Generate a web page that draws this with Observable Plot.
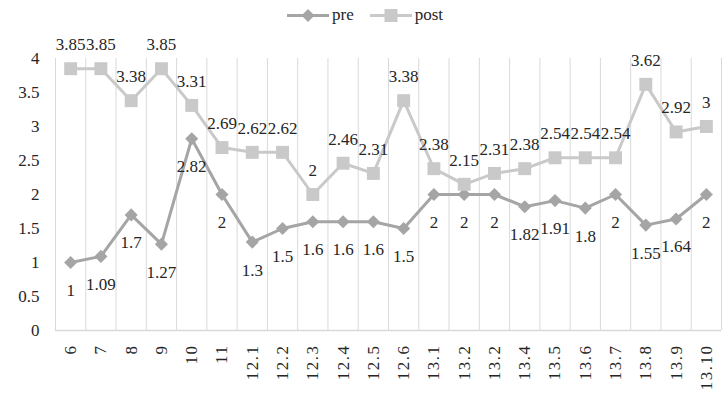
<!DOCTYPE html>
<html>
<head>
<meta charset="utf-8">
<script src="https://cdn.jsdelivr.net/npm/d3@7"></script>
<script src="https://cdn.jsdelivr.net/npm/@observablehq/plot@0.6"></script>
<style>
  body { margin: 0; background: #fff; font-family: "Liberation Serif", "Tinos", "Times New Roman", Times, "DejaVu Serif", serif; }
  #legend { height: 30px; display: flex; justify-content: center; align-items: center; font-size: 17px; color: #262626; padding-left: 8px; box-sizing: border-box; }
  #legend .item { display: flex; align-items: center; margin: 0 8px; }
  #legend svg { margin-right: 3px; }
  #chart svg, #chart svg text { font-family: "Liberation Serif", "Tinos", "Times New Roman", Times, "DejaVu Serif", serif !important; }
  #chart g[aria-label="x-axis tick label"] text { letter-spacing: 1.5px; }
</style>
</head>
<body>
<div id="legend"></div>
<div id="chart"></div>
<script>
const categories = ["6","7","8","9","10","11","12.1","12.2","12.3","12.4","12.5","12.6","13.1","13.2","13.2","13.4","13.5","13.6","13.7","13.8","13.9","13.10"];
const pre  = [1, 1.09, 1.7, 1.27, 2.82, 2, 1.3, 1.5, 1.6, 1.6, 1.6, 1.5, 2, 2, 2, 1.82, 1.91, 1.8, 2, 1.55, 1.64, 2];
const post = [3.85, 3.85, 3.38, 3.85, 3.31, 2.69, 2.62, 2.62, 2, 2.46, 2.31, 3.38, 2.38, 2.15, 2.31, 2.38, 2.54, 2.54, 2.54, 3.62, 2.92, 3];
const yTicks = [0, 0.5, 1, 1.5, 2, 2.5, 3, 3.5, 4];
const seriesNames = ["pre", "post"];
const colors = {pre: "#a5a5a5", post: "#c9c9c9"};

const data = categories.map((c, i) => ({i, x: i + 0.5, cat: c, pre: pre[i], post: post[i]}));
const boundaries = d3.range(categories.length + 1);

// legend
const legend = document.getElementById("legend");
seriesNames.forEach(name => {
  const item = document.createElement("div");
  item.className = "item";
  const sym = name === "pre"
    ? `<polygon points="21,1 27.5,7.5 21,14 14.5,7.5" fill="${colors.pre}"/>`
    : `<rect x="14.5" y="1" width="13" height="13" fill="${colors.post}"/>`;
  item.innerHTML = `<svg width="42" height="15"><line x1="0" x2="42" y1="7.5" y2="7.5" stroke="${colors[name]}" stroke-width="3"/>${sym}</svg><span>${name}</span>`;
  legend.appendChild(item);
});

const chart = Plot.plot({
  width: 722,
  height: 372,
  marginLeft: 55,
  marginRight: 1,
  marginTop: 28,
  marginBottom: 72,
  x: {domain: [0, categories.length], axis: null},
  y: {domain: [0, 4], axis: null},
  style: {fontSize: "17px", color: "#262626", background: "#fff"},
  marks: [
    Plot.ruleX(boundaries, {x: d => d, y1: 0, y2: 4, stroke: "#d9d9d9", strokeWidth: 1}),
    Plot.ruleY([0], {stroke: "#d9d9d9", strokeWidth: 1.5}),
    Plot.axisY({ticks: yTicks, tickSize: 0, tickPadding: 16, tickFormat: d => String(d), label: null, fontSize: 17}),
    Plot.axisX({ticks: data.map(d => d.x), tickFormat: d => categories[Math.floor(d)], tickRotate: -90, tickSize: 0, tickPadding: 14, label: null, fontSize: 17}),
    Plot.line(data, {x: "x", y: "pre", stroke: colors.pre, strokeWidth: 3, strokeLinejoin: "round"}),
    Plot.dot(data, {x: "x", y: "pre", symbol: "diamond2", r: 5.9, fill: colors.pre, stroke: "none"}),
    Plot.line(data, {x: "x", y: "post", stroke: colors.post, strokeWidth: 3, strokeLinejoin: "round"}),
    Plot.dot(data, {x: "x", y: "post", symbol: "square", r: 7.3, fill: colors.post, stroke: "none"}),
    Plot.text(data, {x: "x", y: "pre", text: d => String(d.pre), dy: 28, fill: "#262626", fontSize: 17}),
    Plot.text(data, {x: "x", y: "post", text: d => String(d.post), dy: -24, fill: "#262626", fontSize: 17})
  ]
});
document.getElementById("chart").appendChild(chart);
</script>
</body>
</html>
